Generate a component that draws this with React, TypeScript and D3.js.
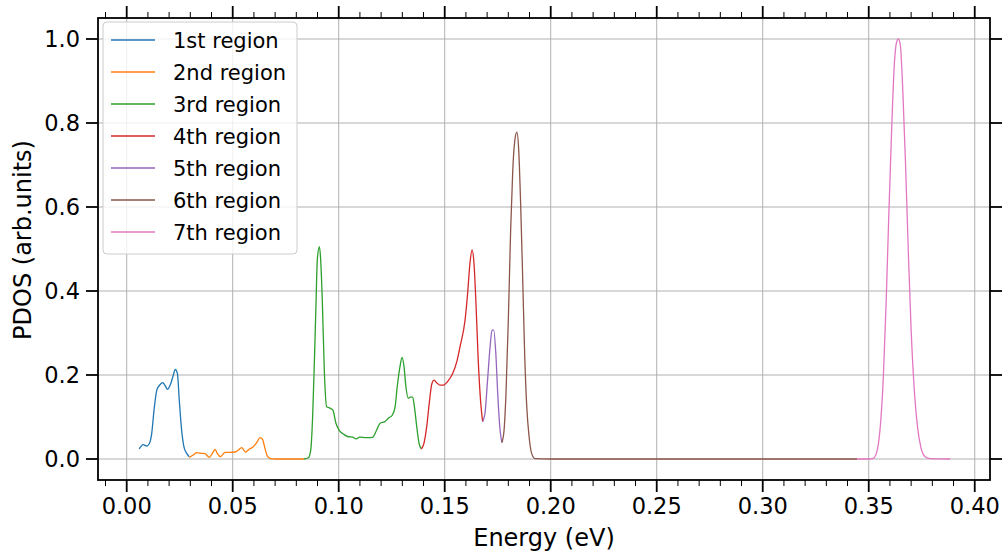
import React from "react";
import * as d3 from "d3";

const regionNames = ["1st region", "2nd region", "3rd region", "4th region", "5th region", "6th region", "7th region"];
const regionColors = ["#1f77b4", "#ff7f0e", "#2ca02c", "#d62728", "#9467bd", "#8c564b", "#e377c2"];

const r1E = [0.0059, 0.0078, 0.0094, 0.0107, 0.0118, 0.0129, 0.0142, 0.0154, 0.017, 0.0181, 0.0193, 0.0208, 0.022, 0.0229, 0.0239, 0.0248, 0.0259, 0.027, 0.0283, 0.0295];
const r1P = [0.024, 0.034, 0.031, 0.037, 0.061, 0.117, 0.164, 0.175, 0.182, 0.175, 0.166, 0.18, 0.2, 0.2135, 0.204, 0.14, 0.069, 0.029, 0.0135, 0.0055];

const r2E = [0.0295, 0.0314, 0.033, 0.0354, 0.0369, 0.039, 0.0406, 0.0417, 0.0427, 0.0443, 0.0464, 0.0487, 0.0511, 0.0527, 0.0542, 0.0561, 0.0577, 0.0597, 0.0613, 0.0629, 0.064, 0.0652, 0.0665, 0.0679, 0.07, 0.0836];
const r2P = [0.004, 0.0095, 0.015, 0.0135, 0.0127, 0.004, 0.015, 0.023, 0.0135, 0.0055, 0.016, 0.016, 0.0167, 0.0214, 0.027, 0.0167, 0.023, 0.0294, 0.039, 0.0508, 0.0476, 0.0254, 0.0055, 0.001, 0.0, 0.0];

const r3E = [0.0836, 0.0857, 0.0868, 0.0877, 0.0885, 0.0893, 0.0899, 0.0909, 0.0915, 0.0923, 0.0932, 0.0943, 0.0959, 0.0972, 0.0987, 0.1003, 0.1022, 0.1045, 0.1066, 0.1082, 0.11, 0.1129, 0.116, 0.1179, 0.1195, 0.1218, 0.1234, 0.1253, 0.1266, 0.1276, 0.1289, 0.1299, 0.1308, 0.1317, 0.1328, 0.134, 0.1349, 0.1357, 0.1368, 0.1379, 0.139];
const r3P = [0.0, 0.003, 0.021, 0.101, 0.228, 0.371, 0.474, 0.5056, 0.474, 0.371, 0.212, 0.1245, 0.121, 0.117, 0.085, 0.0675, 0.0595, 0.053, 0.052, 0.048, 0.052, 0.0508, 0.0516, 0.069, 0.085, 0.089, 0.097, 0.1048, 0.1245, 0.172, 0.22, 0.242, 0.22, 0.172, 0.1445, 0.148, 0.147, 0.1245, 0.077, 0.0373, 0.0238];

const r4E = [0.139, 0.1402, 0.1415, 0.1427, 0.1439, 0.145, 0.1462, 0.1478, 0.1494, 0.1517, 0.1538, 0.1557, 0.1572, 0.1596, 0.1608, 0.1619, 0.1629, 0.1638, 0.1648, 0.1658, 0.167, 0.1679];
const r4P = [0.0238, 0.037, 0.077, 0.1326, 0.1786, 0.188, 0.1817, 0.176, 0.176, 0.1865, 0.204, 0.2317, 0.267, 0.331, 0.394, 0.466, 0.4976, 0.466, 0.363, 0.236, 0.1326, 0.089];

const r5E = [0.1679, 0.169, 0.1701, 0.1714, 0.1723, 0.1731, 0.1741, 0.175, 0.1761, 0.177];
const r5P = [0.089, 0.109, 0.18, 0.267, 0.307, 0.307, 0.2517, 0.156, 0.069, 0.039];

const r6E = [0.177, 0.178, 0.1789, 0.18, 0.1811, 0.1821, 0.183, 0.184, 0.1849, 0.1858, 0.1868, 0.1877, 0.1887, 0.1898, 0.191, 0.1926, 0.2, 0.3445];
const r6P = [0.039, 0.069, 0.156, 0.331, 0.545, 0.688, 0.7555, 0.778, 0.736, 0.609, 0.426, 0.2517, 0.1245, 0.053, 0.0135, 0.001, 0.0, 0.0];

const r7E = [0.3445, 0.35, 0.3522, 0.354, 0.3557, 0.3569, 0.3582, 0.3594, 0.3608, 0.3621, 0.3632, 0.364, 0.3649, 0.366, 0.3673, 0.3687, 0.37, 0.3714, 0.373, 0.3747, 0.3766, 0.379, 0.3884];
const r7P = [0.0, 0.0, 0.0017, 0.021, 0.093, 0.196, 0.371, 0.569, 0.783, 0.942, 0.9935, 1.0, 0.9857, 0.886, 0.712, 0.49, 0.307, 0.172, 0.077, 0.0254, 0.0055, 0.0007, 0.0];

const regionEnergies = [r1E, r2E, r3E, r4E, r5E, r6E, r7E];
const regionPdos = [r1P, r2P, r3P, r4P, r5P, r6P, r7P];

const xTickValues = [0.0, 0.05, 0.1, 0.15, 0.2, 0.25, 0.3, 0.35, 0.4];
const xTickLabels = ["0.00", "0.05", "0.10", "0.15", "0.20", "0.25", "0.30", "0.35", "0.40"];
const xMinorTicks = [-0.01, 0.01, 0.02, 0.03, 0.04, 0.06, 0.07, 0.08, 0.09, 0.11, 0.12, 0.13, 0.14, 0.16, 0.17, 0.18, 0.19, 0.21, 0.22, 0.23, 0.24, 0.26, 0.27, 0.28, 0.29, 0.31, 0.32, 0.33, 0.34, 0.36, 0.37, 0.38, 0.39];
const yTickValues = [0.0, 0.2, 0.4, 0.6, 0.8, 1.0];
const yTickLabels = ["0.0", "0.2", "0.4", "0.6", "0.8", "1.0"];

const W = 1003;
const H = 556;
const L = 98, R = 990, T = 18, B = 480;
const FONT = "DejaVu Sans, sans-serif";

export default function App() {
  const x = d3.scaleLinear().domain([-0.01354, 0.4072]).range([L, R]);
  const y = d3.scaleLinear().domain([-0.05, 1.05]).range([B, T]);
  const line = d3
    .line<[number, number]>()
    .x((d) => x(d[0]))
    .y((d) => y(d[1]))
    .curve(d3.curveMonotoneX);

  const majorLen = 12;
  const minorLen = 6;

  return (
    <svg width={W} height={H} style={{ position: "absolute", left: 0, top: 0, background: "#fff" }} fontFamily={FONT}>
      <defs>
        <clipPath id="plotclip">
          <rect x={L} y={T} width={R - L} height={B - T} />
        </clipPath>
      </defs>
      {/* grid */}
      {xTickValues.map((v, i) => (
        <line key={"gx" + i} x1={x(v)} x2={x(v)} y1={T} y2={B} stroke="#b0b0b0" strokeWidth={1} />
      ))}
      {yTickValues.map((v, i) => (
        <line key={"gy" + i} x1={L} x2={R} y1={y(v)} y2={y(v)} stroke="#b0b0b0" strokeWidth={1} />
      ))}
      {/* lines */}
      <g clipPath="url(#plotclip)">
        {regionEnergies.map((es, i) => {
          const pts = es.map((e, j) => [e, regionPdos[i][j]] as [number, number]);
          return <path key={"l" + i} d={line(pts) || ""} fill="none" stroke={regionColors[i]} strokeWidth={1.3} strokeLinejoin="round" />;
        })}
      </g>
      {/* spines */}
      <rect x={L} y={T} width={R - L} height={B - T} fill="none" stroke="#000" strokeWidth={1.8} />
      {/* x ticks bottom and top */}
      {xTickValues.map((v, i) => (
        <g key={"xt" + i}>
          <line x1={x(v)} x2={x(v)} y1={B} y2={B + majorLen} stroke="#000" strokeWidth={1.8} />
          <line x1={x(v)} x2={x(v)} y1={T} y2={T - majorLen} stroke="#000" strokeWidth={1.8} />
          <text x={x(v)} y={514} fontSize={22.5} textAnchor="middle" fill="#000">
            {xTickLabels[i]}
          </text>
        </g>
      ))}
      {xMinorTicks.map((v, i) => (
        <g key={"xm" + i}>
          <line x1={x(v)} x2={x(v)} y1={B} y2={B + minorLen} stroke="#000" strokeWidth={1} />
          <line x1={x(v)} x2={x(v)} y1={T} y2={T - minorLen} stroke="#000" strokeWidth={1} />
        </g>
      ))}
      {/* y ticks left and right */}
      {yTickValues.map((v, i) => (
        <g key={"yt" + i}>
          <line x1={L} x2={L - majorLen} y1={y(v)} y2={y(v)} stroke="#000" strokeWidth={1.8} />
          <line x1={R} x2={R + majorLen} y1={y(v)} y2={y(v)} stroke="#000" strokeWidth={1.8} />
          <text x={80} y={y(v)} dy="0.36em" fontSize={22.5} textAnchor="end" fill="#000">
            {yTickLabels[i]}
          </text>
        </g>
      ))}
      {/* axis labels */}
      <text x={(L + R) / 2} y={546} fontSize={24} textAnchor="middle" fill="#000">
        Energy (eV)
      </text>
      <text transform={`translate(31, ${240}) rotate(-90)`} fontSize={24} textAnchor="middle" fill="#000">
        PDOS (arb.units)
      </text>
      {/* legend */}
      <g>
        <rect x={103} y={22} width={194} height={232} rx={4} ry={4} fill="#fff" fillOpacity={0.8} stroke="#cccccc" strokeWidth={1} />
        {regionNames.map((name, i) => {
          const cy = 40 + i * 32;
          return (
            <g key={"lg" + i}>
              <line x1={111} x2={155} y1={cy} y2={cy} stroke={regionColors[i]} strokeWidth={1.5} />
              <text x={173} y={cy} dy="0.36em" fontSize={21} fill="#000">
                {name}
              </text>
            </g>
          );
        })}
      </g>
    </svg>
  );
}
